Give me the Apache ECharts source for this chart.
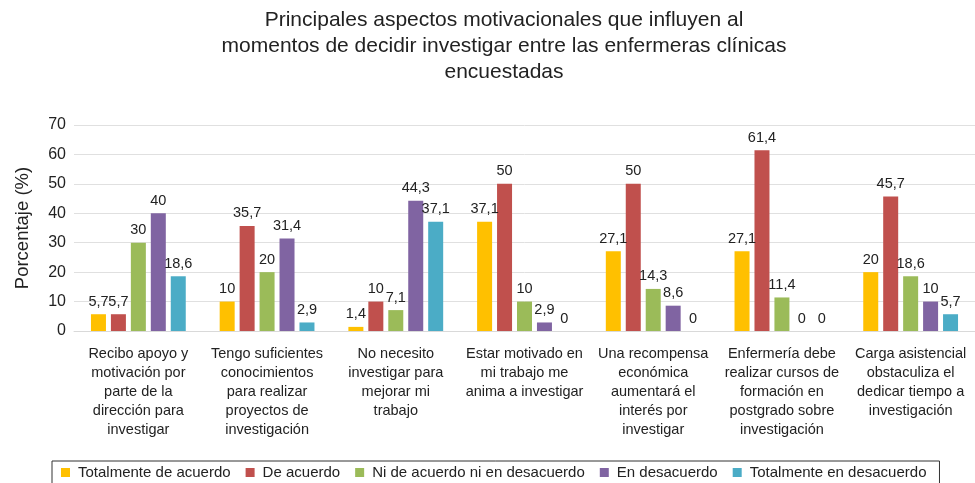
<!DOCTYPE html>
<html>
<head>
<meta charset="utf-8">
<script src="https://cdn.jsdelivr.net/npm/echarts@6/dist/echarts.min.js"></script>
<style>
html,body{margin:0;padding:0;background:#fff;}
#chart{width:975px;height:483px;}
</style>
</head>
<body>
<div id="chart"></div>
<script>
var titleText = "Principales aspectos motivacionales que influyen al\nmomentos de decidir investigar entre las enfermeras clínicas\nencuestadas";
var yAxisName = "Porcentaje (%)";
var categories = [
  "Recibo apoyo y\nmotivación por\nparte de la\ndirección para\ninvestigar",
  "Tengo suficientes\nconocimientos\npara realizar\nproyectos de\ninvestigación",
  "No necesito\ninvestigar para\nmejorar mi\ntrabajo",
  "Estar motivado en\nmi trabajo me\nanima a investigar",
  "Una recompensa\neconómica\naumentará el\ninterés por\ninvestigar",
  "Enfermería debe\nrealizar cursos de\nformación en\npostgrado sobre\ninvestigación",
  "Carga asistencial\nobstaculiza el\ndedicar tiempo a\ninvestigación"
];
var seriesNames = ["Totalmente de acuerdo", "De acuerdo", "Ni de acuerdo ni en desacuerdo", "En desacuerdo", "Totalmente en desacuerdo"];
var totalmenteDeAcuerdo = [5.7, 10, 1.4, 37.1, 27.1, 27.1, 20];
var deAcuerdo = [5.7, 35.7, 10, 50, 50, 61.4, 45.7];
var niDeAcuerdo = [30, 20, 7.1, 10, 14.3, 11.4, 18.6];
var enDesacuerdo = [40, 31.4, 44.3, 2.9, 8.6, 0, 10];
var totalmenteEnDesacuerdo = [18.6, 2.9, 37.1, 0, 0, 0, 5.7];
var yTicks = [0, 10, 20, 30, 40, 50, 60, 70];

var colors = ["#FFC000", "#C0504D", "#9BBB59", "#8064A2", "#4BACC6"];
var allData = [totalmenteDeAcuerdo, deAcuerdo, niDeAcuerdo, enDesacuerdo, totalmenteEnDesacuerdo];
var FONT = "Liberation Sans, Arial, Helvetica, sans-serif";

var chart = echarts.init(document.getElementById('chart'), null, {renderer: 'canvas'});
var series = seriesNames.map(function (n, i) {
  return {
    name: n,
    type: 'bar',
    data: allData[i],
    barWidth: 15,
    barGap: '33%',
    itemStyle: {color: colors[i]},
    label: {
      show: true,
      position: 'top',
      distance: 5,
      color: '#222',
      fontSize: 14.5,
      fontFamily: FONT,
      formatter: function (p) { return String(p.value).replace('.', ','); }
    }
  };
});

chart.setOption({
  animation: false,
  backgroundColor: '#fff',
  color: colors,
  title: {
    text: titleText,
    left: 504,
    top: 7,
    textAlign: 'center',
    padding: 0,
    textStyle: {fontFamily: FONT, fontSize: 21, fontWeight: 'normal', color: '#222', lineHeight: 26}
  },
  legend: {
    left: 52,
    top: 461,
    padding: [4, 13, 6, 9],
    borderColor: '#333',
    borderWidth: 1,
    itemWidth: 9,
    itemHeight: 9,
    itemGap: 15,
    icon: 'rect',
    textStyle: {fontFamily: FONT, fontSize: 15, color: '#222', padding: [0, 0, 0, 3]},
    data: seriesNames
  },
  grid: {left: 74, right: 0, top: 125, bottom: 152, containLabel: false},
  xAxis: {
    type: 'category',
    data: categories,
    axisLine: {show: true, lineStyle: {color: '#d9d9d9'}},
    axisTick: {show: false},
    axisLabel: {
      interval: 0,
      margin: 13,
      fontFamily: FONT,
      fontSize: 14.5,
      lineHeight: 19,
      color: '#222',
      verticalAlign: 'top'
    }
  },
  yAxis: {
    type: 'value',
    min: 0,
    max: 70,
    interval: 10,
    name: yAxisName,
    nameLocation: 'middle',
    nameGap: 42,
    nameTextStyle: {fontFamily: FONT, fontSize: 18.5, color: '#222'},
    axisLine: {show: false},
    axisTick: {show: false},
    splitLine: {lineStyle: {color: '#e0e0e0'}},
    axisLabel: {
      fontFamily: FONT,
      fontSize: 16,
      color: '#222',
      margin: 8,
      formatter: function (v) { return yTicks.indexOf(v) >= 0 ? String(v) : ''; }
    }
  },
  series: series
});
</script>
</body>
</html>
